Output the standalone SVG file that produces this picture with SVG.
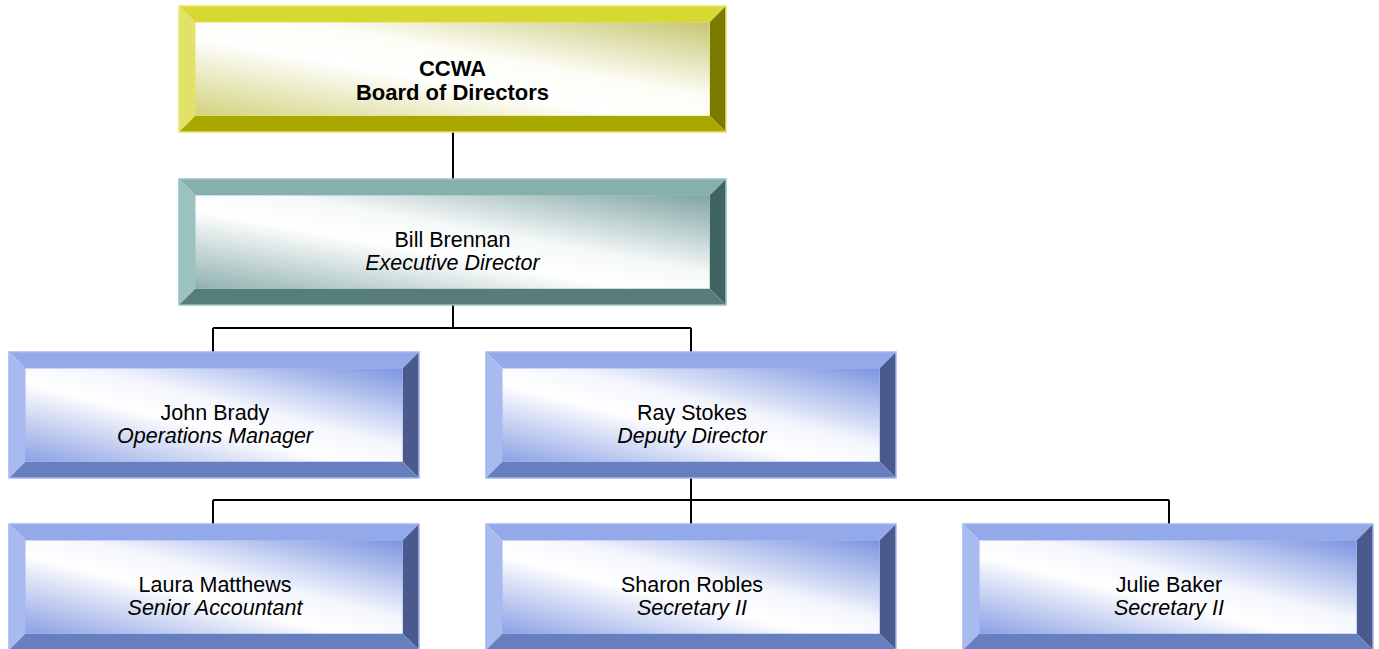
<svg xmlns="http://www.w3.org/2000/svg" width="1379" height="649" viewBox="0 0 1379 649">
<defs>
<linearGradient id="gY" x1="0" y1="1" x2="1" y2="0"><stop offset="0" stop-color="#d2d27e"/><stop offset="0.42" stop-color="#ffffff"/><stop offset="0.6" stop-color="#fdfdf6"/><stop offset="1" stop-color="#c6c672"/></linearGradient>
<linearGradient id="gT" x1="0" y1="1" x2="1" y2="0"><stop offset="0" stop-color="#8eb0ae"/><stop offset="0.42" stop-color="#ffffff"/><stop offset="0.58" stop-color="#f6f9f9"/><stop offset="1" stop-color="#7ea4a2"/></linearGradient>
<linearGradient id="gB" x1="0" y1="1" x2="1" y2="0"><stop offset="0" stop-color="#8aa0e4"/><stop offset="0.42" stop-color="#ffffff"/><stop offset="0.58" stop-color="#f4f6fd"/><stop offset="1" stop-color="#7a94e0"/></linearGradient>
</defs>
<style>
.yt{fill:#d8d832}.yl{fill:#e2e268}.yr{fill:#7a7a00}.yb{fill:#a8a800}.yo{fill:none;stroke:#e6e666;stroke-width:1.5}
.tt{fill:#86b0ae}.tl{fill:#9cc2c0}.tr{fill:#3f6361}.tb{fill:#577d7b}.to{fill:none;stroke:#9cc2c0;stroke-width:1.5}
.bt{fill:#93a9ea}.bl{fill:#a9baf0}.br{fill:#4a5a8c}.bb{fill:#687fbf}.bo{fill:none;stroke:#a3b6f0;stroke-width:1.5}
.in{stroke-width:1}
.name{font-family:"Liberation Sans",Arial,sans-serif;font-size:21.5px;fill:#000;text-anchor:middle}
.title{font-family:"Liberation Sans",Arial,sans-serif;font-size:21.5px;font-style:italic;fill:#000;text-anchor:middle}
.bold{font-family:"Liberation Sans",Arial,sans-serif;font-size:22px;font-weight:bold;fill:#000;text-anchor:middle}
.conn{stroke:#000;stroke-width:2;fill:none}
</style>
<g id="connectors">
<path class="conn" d="M453,132 V179"/>
<path class="conn" d="M453,305 V328 M213,328 H691 M213,328 V352 M691,328 V352"/>
<path class="conn" d="M691,477 V500 M213,500 H1169 M213,500 V524 M691,500 V524 M1169,500 V524"/>
</g>
<g id="board" transform="translate(179,6)">
<rect x="16" y="16" width="515" height="94" fill="url(#gY)" stroke="#e6e666" class="in"/>
<polygon class="yt" points="0,0 547,0 531,16 16,16"/>
<polygon class="yl" points="0,0 16,16 16,110 0,126"/>
<polygon class="yr" points="547,0 547,126 531,110 531,16"/>
<polygon class="yb" points="0,126 16,110 531,110 547,126"/>
<rect class="yo" x="0" y="0" width="547" height="126"/>
<text class="bold" x="273.5" y="69.5">CCWA</text>
<text class="bold" x="273.5" y="94">Board of Directors</text>
</g>
<g id="exec" transform="translate(179,179)">
<rect x="16" y="16" width="515" height="94" fill="url(#gT)" stroke="#9cc2c0" class="in"/>
<polygon class="tt" points="0,0 547,0 531,16 16,16"/>
<polygon class="tl" points="0,0 16,16 16,110 0,126"/>
<polygon class="tr" points="547,0 547,126 531,110 531,16"/>
<polygon class="tb" points="0,126 16,110 531,110 547,126"/>
<rect class="to" x="0" y="0" width="547" height="126"/>
<text class="name" x="273.5" y="67.5">Bill Brennan</text>
<text class="title" x="273.5" y="90.5">Executive Director</text>
</g>
<g id="john" transform="translate(9,352)">
<rect x="16" y="16" width="378" height="94" fill="url(#gB)" stroke="#a3b6f0" class="in"/>
<polygon class="bt" points="0,0 410,0 394,16 16,16"/>
<polygon class="bl" points="0,0 16,16 16,110 0,126"/>
<polygon class="br" points="410,0 410,126 394,110 394,16"/>
<polygon class="bb" points="0,126 16,110 394,110 410,126"/>
<rect class="bo" x="0" y="0" width="410" height="126"/>
<text class="name" x="206" y="67.5">John Brady</text>
<text class="title" x="206" y="90.5">Operations Manager</text>
</g>
<g id="ray" transform="translate(486,352)">
<rect x="16" y="16" width="378" height="94" fill="url(#gB)" stroke="#a3b6f0" class="in"/>
<polygon class="bt" points="0,0 410,0 394,16 16,16"/>
<polygon class="bl" points="0,0 16,16 16,110 0,126"/>
<polygon class="br" points="410,0 410,126 394,110 394,16"/>
<polygon class="bb" points="0,126 16,110 394,110 410,126"/>
<rect class="bo" x="0" y="0" width="410" height="126"/>
<text class="name" x="206" y="67.5">Ray Stokes</text>
<text class="title" x="206" y="90.5">Deputy Director</text>
</g>
<g id="laura" transform="translate(9,524)">
<rect x="16" y="16" width="378" height="94" fill="url(#gB)" stroke="#a3b6f0" class="in"/>
<polygon class="bt" points="0,0 410,0 394,16 16,16"/>
<polygon class="bl" points="0,0 16,16 16,110 0,126"/>
<polygon class="br" points="410,0 410,126 394,110 394,16"/>
<polygon class="bb" points="0,126 16,110 394,110 410,126"/>
<rect class="bo" x="0" y="0" width="410" height="126"/>
<text class="name" x="206" y="67.5">Laura Matthews</text>
<text class="title" x="206" y="90.5">Senior Accountant</text>
</g>
<g id="sharon" transform="translate(486,524)">
<rect x="16" y="16" width="378" height="94" fill="url(#gB)" stroke="#a3b6f0" class="in"/>
<polygon class="bt" points="0,0 410,0 394,16 16,16"/>
<polygon class="bl" points="0,0 16,16 16,110 0,126"/>
<polygon class="br" points="410,0 410,126 394,110 394,16"/>
<polygon class="bb" points="0,126 16,110 394,110 410,126"/>
<rect class="bo" x="0" y="0" width="410" height="126"/>
<text class="name" x="206" y="67.5">Sharon Robles</text>
<text class="title" x="206" y="90.5">Secretary II</text>
</g>
<g id="julie" transform="translate(963,524)">
<rect x="16" y="16" width="378" height="94" fill="url(#gB)" stroke="#a3b6f0" class="in"/>
<polygon class="bt" points="0,0 410,0 394,16 16,16"/>
<polygon class="bl" points="0,0 16,16 16,110 0,126"/>
<polygon class="br" points="410,0 410,126 394,110 394,16"/>
<polygon class="bb" points="0,126 16,110 394,110 410,126"/>
<rect class="bo" x="0" y="0" width="410" height="126"/>
<text class="name" x="206" y="67.5">Julie Baker</text>
<text class="title" x="206" y="90.5">Secretary II</text>
</g>
</svg>
